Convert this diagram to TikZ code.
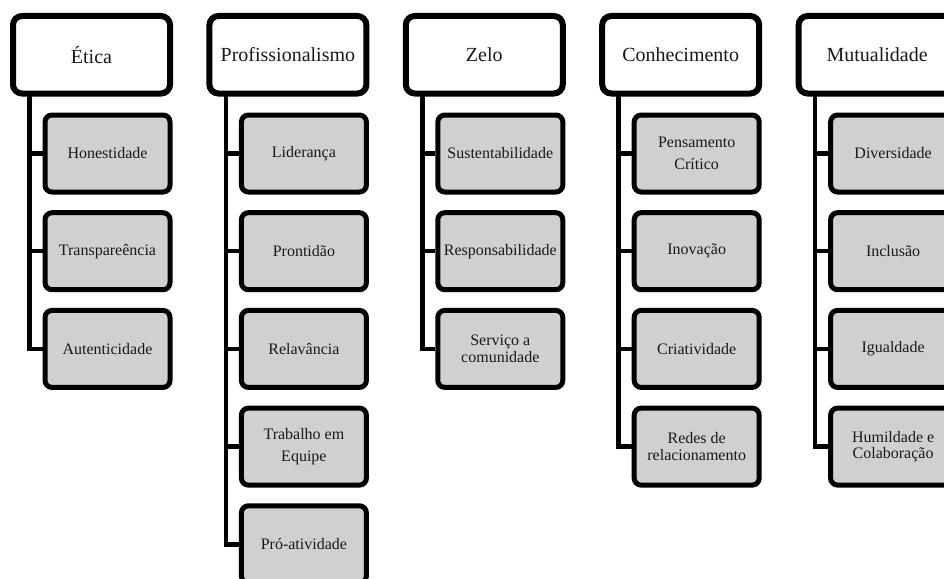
\documentclass[tikz,border=0pt]{standalone}
\usepackage{fontspec}
\setmainfont{Liberation Serif}
\usetikzlibrary{shadows}
\definecolor{boxgray}{RGB}{208,208,208}
\definecolor{txt}{RGB}{25,25,25}
\tikzset{
  headbox/.style={draw=black, line width=6pt, rounded corners=9pt, fill=white,
    minimum width=157pt, minimum height=77.5pt, inner sep=0pt, text=txt,
    font=\fontsize{20}{22}\selectfont,
    drop shadow={shadow xshift=1.5pt, shadow yshift=-2.5pt, opacity=0.18, fill=black}},
  itembox/.style={draw=black, line width=5pt, rounded corners=7pt, fill=boxgray,
    minimum width=125pt, minimum height=77pt, inner sep=0pt, text=txt,
    align=center, font=\fontsize{16}{22}\selectfont},
  tight/.style={font=\fontsize{16}{16.7}\selectfont},
  link/.style={draw=black, line width=4.5pt, line join=miter}
}
\begin{document}
\begin{tikzpicture}[x=1pt, y=-1pt]
\useasboundingbox (0,0) rectangle (944,578);
\clip (0,0) rectangle (944,578);
\fill[white] (0,0) rectangle (944,578);

% column 1
\node[headbox] (h1) at (91.5,54.75) {Ética};
\coordinate (v1) at (29.5,93.5);
\node[itembox] (a1) at (107.5,153.5) {Honestidade};
\node[itembox] (a2) at (107.5,251.2) {Transpareência};
\node[itembox] (a3) at (107.5,348.9) {Autenticidade};
\foreach \n in {a1,a2,a3} \draw[link] (v1) |- (\n.west);

% column 2
\node[headbox] (h2) at (287.9,54.75) {Profissionalismo};
\coordinate (v2) at (225.9,93.5);
\node[itembox] (b1) at (303.9,153.5) {Liderança};
\node[itembox] (b2) at (303.9,251.2) {Prontidão};
\node[itembox] (b3) at (303.9,348.9) {Relavância};
\node[itembox] (b4) at (303.9,446.6) {Trabalho em\\Equipe};
\node[itembox] (b5) at (303.9,544.3) {Pró-atividade};
\foreach \n in {b1,b2,b3,b4,b5} \draw[link] (v2) |- (\n.west);

% column 3
\node[headbox] (h3) at (484.3,54.75) {Zelo};
\coordinate (v3) at (422.3,93.5);
\node[itembox] (c1) at (500.3,153.5) {Sustentabilidade};
\node[itembox] (c2) at (500.3,251.2) {Responsabilidade};
\node[itembox, tight] (c3) at (500.3,348.9) {Serviço a\\comunidade};
\foreach \n in {c1,c2,c3} \draw[link] (v3) |- (\n.west);

% column 4
\node[headbox] (h4) at (680.7,54.75) {Conhecimento};
\coordinate (v4) at (618.7,93.5);
\node[itembox] (d1) at (696.7,153.5) {Pensamento\\Crítico};
\node[itembox] (d2) at (696.7,251.2) {Inovação};
\node[itembox] (d3) at (696.7,348.9) {Criatividade};
\node[itembox, tight] (d4) at (696.7,446.6) {Redes de\\relacionamento};
\foreach \n in {d1,d2,d3,d4} \draw[link] (v4) |- (\n.west);

% column 5
\node[headbox] (h5) at (877.1,54.75) {Mutualidade};
\coordinate (v5) at (815.1,93.5);
\node[itembox] (e1) at (893.1,153.5) {Diversidade};
\node[itembox] (e2) at (893.1,251.2) {Inclusão};
\node[itembox] (e3) at (893.1,348.9) {Igualdade};
\node[itembox, tight] (e4) at (893.1,446.6) {Humildade e\\Colaboração};
\foreach \n in {e1,e2,e3,e4} \draw[link] (v5) |- (\n.west);
\end{tikzpicture}
\end{document}
